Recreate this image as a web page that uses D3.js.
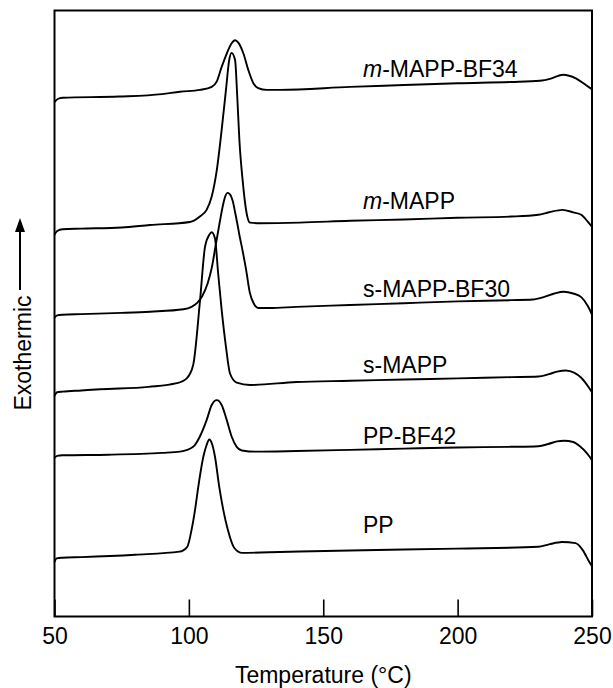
<!DOCTYPE html>
<html>
<head>
<meta charset="utf-8">
<script src="https://cdn.jsdelivr.net/npm/d3@7"></script>
<style>
  body { margin: 0; background: #fff; }
  svg text { font-family: "Liberation Sans", Arial, Helvetica, sans-serif; font-size: 23px; fill: #000; }
</style>
</head>
<body>
<div class="chart"></div>
<script>
// DSC cooling curves, heat flow in arbitrary units (curves stacked)
var xTicks = [50, 100, 150, 200, 250];

var mMappBF34 = [[50,84.9],[51.2,85.4],[53,85.6],[74,85.8],[90,86.2],[96.7,86.6],[104.1,86.9],[108.5,87.4],[110.4,88.3],[112.2,90.7],[114.1,92.9],[115.9,94.6],[117.2,95.1],[118.4,94.7],[120.3,92.9],[122.1,90.2],[124,88.0],[125.8,87.2],[129,86.9],[133.9,86.9],[160,87.4],[180,87.7],[200,88.0],[220,88.2],[230.6,88.4],[235,88.8],[239.2,89.4],[244,88.8],[247.7,87.7],[250,87.0]];

var mMapp = [[50,63.0],[51,63.6],[53,63.9],[60,64.0],[75,64.2],[85.5,64.6],[100.4,65.1],[104.1,66.0],[106.6,67.1],[108.5,69.3],[110.4,73.7],[112.2,80.3],[113.8,86.9],[115,91.8],[115.9,93.0],[117.2,91.8],[118,85.8],[118.8,78.6],[120,72.0],[121.5,66.5],[122.7,65.0],[126.5,64.9],[141.3,65.0],[160,65.3],[180,65.5],[200,65.8],[220,66.0],[230,66.3],[234,66.7],[239,67.1],[243,66.7],[246,66.3],[248.5,65.1],[250,64.3]];

var sMappBF30 = [[50,49.3],[51,49.7],[53,49.8],[60,49.9],[75,50.1],[85.6,50.3],[98,50.7],[101,51.1],[103,51.7],[105,52.9],[107,55.0],[108.5,57.5],[110,61.3],[111.5,65.1],[112.7,67.9],[113.6,69.4],[114.3,69.9],[115.2,69.7],[116.3,68.6],[117.2,66.7],[118,64.9],[119,62.5],[119.7,61.0],[121.3,57.2],[122.7,53.4],[124.2,51.6],[125.8,50.9],[130,50.9],[140,51.1],[160,51.4],[180,51.7],[200,52.0],[220,52.2],[228,52.3],[232,52.7],[236,53.3],[239.5,53.6],[243,53.3],[246,52.7],[248.5,51.2],[250,49.8]];

var sMapp = [[50,36.4],[51,37.0],[53,37.1],[60,37.3],[67,37.5],[85,37.9],[95.5,38.5],[99.2,39.3],[101.6,41.5],[104.1,51.9],[106,61.0],[107.6,63.0],[108.5,63.4],[109.7,62.4],[110.9,56.6],[112.2,50.6],[113.8,44.5],[115.3,40.1],[117.8,38.6],[122.8,38.2],[140,38.7],[160,38.9],[180,39.1],[200,39.3],[220,39.5],[230,39.6],[234,40.0],[237,40.4],[240.3,40.6],[243.5,40.2],[246,39.4],[248.5,38.0],[250,37.0]];

var ppBF42 = [[50,26.2],[51,26.5],[53,26.6],[70,26.7],[90,27.0],[96.7,27.2],[101.6,28.0],[104.1,29.7],[106.6,32.4],[108.5,34.9],[110.4,35.7],[112.2,34.9],[114.1,32.4],[115.9,29.7],[117.8,28.0],[119.7,27.4],[125,27.2],[140,27.3],[160,27.5],[180,27.7],[200,27.9],[220,28.0],[230,28.1],[234,28.5],[237,28.9],[239.6,29.0],[243,28.8],[245.5,28.1],[248,27.0],[250,25.8]];

var pp = [[50,9.0],[50.8,9.6],[53,9.7],[60,9.8],[80,10.2],[96.5,10.7],[99.4,11.5],[101,14.3],[102.3,17.6],[103.5,21.4],[105.4,26.4],[106.6,28.3],[107.6,29.2],[108.6,28.5],[109.7,26.4],[111.3,21.4],[112.8,17.6],[114.5,14.3],[116.9,11.3],[119.8,10.5],[130,10.6],[160,10.9],[200,11.2],[230,11.5],[234,11.9],[238.8,12.3],[243.9,12.1],[246.5,11.0],[249,9.0],[250,8.3]];

var seriesNames = ["m-MAPP-BF34", "m-MAPP", "s-MAPP-BF30", "s-MAPP", "PP-BF42", "PP"];
var seriesData = [mMappBF34, mMapp, sMappBF30, sMapp, ppBF42, pp];
var labelLevels = [89.0, 67.3, 52.7, 40.2, 28.5, 13.8];   // label baseline, same units

var width = 613, height = 688;
var plotLeft = 54.5, plotRight = 592, plotTop = 10.5, plotBottom = 616.5;

var svg = d3.select(".chart").append("svg")
    .attr("width", width)
    .attr("height", height);

var x = d3.scaleLinear().domain([50, 250]).range([plotLeft, plotRight]);
var y = d3.scaleLinear().domain([0, 100]).range([plotBottom, plotTop]);

var line = d3.line()
    .x(function(d) { return x(d[0]); })
    .y(function(d) { return y(d[1]); })
    .curve(d3.curveMonotoneX);

svg.selectAll("path.curve")
    .data(seriesData)
    .enter().append("path")
    .attr("class", "curve")
    .attr("d", line)
    .attr("fill", "none")
    .attr("stroke", "#000")
    .attr("stroke-width", 1.9)
    .attr("stroke-linejoin", "round");

// frame
svg.append("rect")
    .attr("x", plotLeft).attr("y", plotTop)
    .attr("width", plotRight - plotLeft).attr("height", plotBottom - plotTop)
    .attr("fill", "none").attr("stroke", "#000").attr("stroke-width", 2);

var xAxis = d3.axisBottom(x)
    .tickValues(xTicks)
    .tickSizeInner(-17)
    .tickSizeOuter(0)
    .tickPadding(11);

var gx = svg.append("g")
    .attr("transform", "translate(0," + plotBottom + ")")
    .call(xAxis);
gx.select(".domain").remove();
gx.selectAll(".tick line").attr("stroke", "#000").attr("stroke-width", 1.6);
gx.selectAll(".tick text")
    .attr("font-size", null)
    .style("font-family", '"Liberation Sans", Arial, sans-serif')
    .style("font-size", "23px");

svg.append("text")
    .attr("x", (plotLeft + plotRight) / 2)
    .attr("y", 683)
    .attr("text-anchor", "middle")
    .text("Temperature (\u00B0C)");

// y label with arrow
svg.append("text")
    .attr("transform", "translate(30.5,353) rotate(-90)")
    .attr("text-anchor", "middle")
    .text("Exothermic");

svg.append("line")
    .attr("x1", 20).attr("x2", 20)
    .attr("y1", 290).attr("y2", 228)
    .attr("stroke", "#000").attr("stroke-width", 2);
svg.append("path")
    .attr("d", "M20,218 L25,232 L15,232 Z")
    .attr("fill", "#000");

// curve labels
svg.selectAll("text.label")
    .data(seriesNames)
    .enter().append("text")
    .attr("class", "label")
    .attr("x", 363)
    .attr("y", function(d, i) { return y(labelLevels[i]); })
    .each(function(d) {
        var t = d3.select(this);
        if (d.indexOf("m-") === 0) {
            t.append("tspan").style("font-style", "italic").text("m");
            t.append("tspan").text(d.slice(1));
        } else {
            t.text(d);
        }
    });
</script>
</body>
</html>
